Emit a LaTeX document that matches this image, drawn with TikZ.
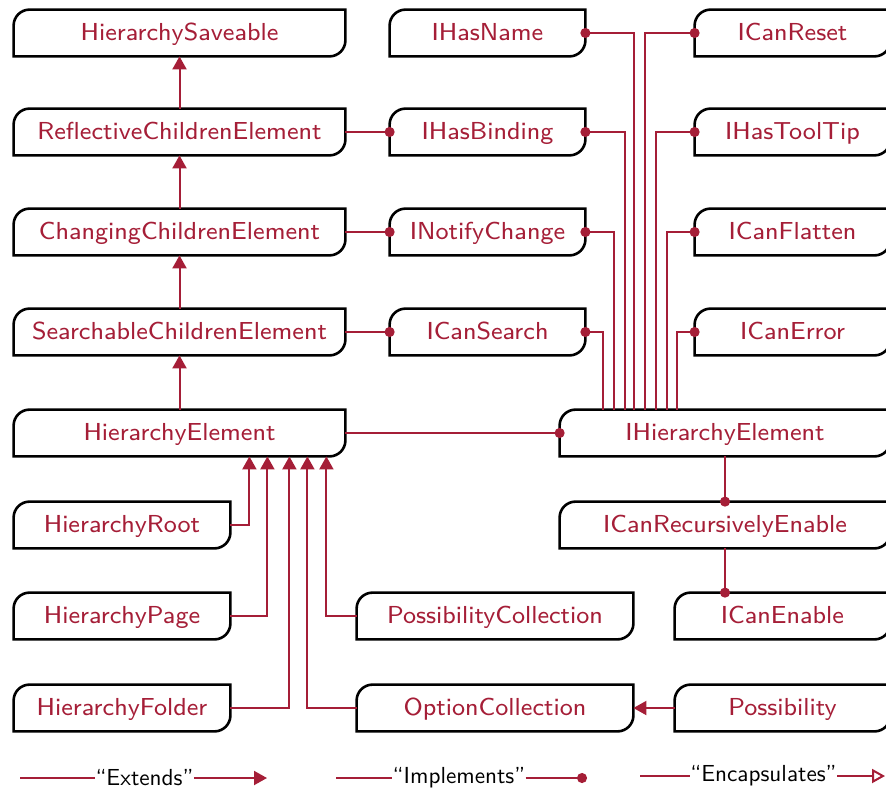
\documentclass[tikz,border=0pt]{standalone}
\usetikzlibrary{arrows.meta}

\definecolor{uniRed}{RGB}{165,30,55}
\font\boxfnt="[lmsans8-regular]:mapping=tex-text" at 12.3pt
\font\legendfnt="[lmsans10-regular]:mapping=tex-text" at 11.6pt

\tikzset{
  classbox/.style={minimum width=#1, minimum height=23pt, inner sep=0pt, text height=8.5pt, text depth=1pt,
    text=uniRed, font=\boxfnt},
  boxline/.style={draw=black, line width=1.3pt},
  link/.style={draw=uniRed, line width=1pt},
  extends/.style={link, -{Triangle[length=6.5pt,width=7pt]}},
  implements/.style={link, -{Circle[length=5pt]}, shorten >=-2.5pt},
  encaps/.style={link, -{Triangle[open,length=6.5pt,width=7pt]}},
  legend/.style={inner sep=0pt, font=\legendfnt},
}

\begin{document}
\begin{tikzpicture}[x=0.5pt,y=-0.5pt]
  \useasboundingbox (0,0) rectangle (886,792);

  % classes, left column
  \node[classbox=165.5pt] (hsave)  at (179.5,33)  {HierarchySaveable};
  \node[classbox=165.5pt] (refl)   at (179.5,132) {ReflectiveChildrenElement};
  \node[classbox=165.5pt] (chang)  at (179.5,232) {ChangingChildrenElement};
  \node[classbox=165.5pt] (search) at (179.5,332) {SearchableChildrenElement};
  \node[classbox=165.5pt] (helem)  at (179.5,433) {HierarchyElement};
  \node[classbox=108pt] (hroot)   at (122,525) {HierarchyRoot};
  \node[classbox=108pt] (hpage)   at (122,616) {HierarchyPage};
  \node[classbox=108pt] (hfolder) at (122,708) {HierarchyFolder};
  \node[classbox=138pt] (posscoll) at (495,616) {PossibilityCollection};
  \node[classbox=138pt] (optcoll)  at (495,708) {OptionCollection};
  \node[classbox=107.5pt] (poss)   at (782.5,708) {Possibility};

  % interfaces
  \node[classbox=97.5pt] (ihasname) at (487.5,33)  {IHasName};
  \node[classbox=97.5pt] (ihasbind) at (487.5,132) {IHasBinding};
  \node[classbox=97.5pt] (inotify)  at (487.5,232) {INotifyChange};
  \node[classbox=97.5pt] (icansrch) at (487.5,332) {ICanSearch};
  \node[classbox=97.5pt] (icanreset) at (792.5,33)  {ICanReset};
  \node[classbox=97.5pt] (ihastip)   at (792.5,132) {IHasToolTip};
  \node[classbox=97.5pt] (icanflat)  at (792.5,232) {ICanFlatten};
  \node[classbox=97.5pt] (icanerr)   at (792.5,332) {ICanError};
  \node[classbox=165pt] (ihier)  at (725,433) {IHierarchyElement};
  \node[classbox=165pt] (irecen) at (725,525) {ICanRecursivelyEnable};
  \node[classbox=107.5pt] (icanen) at (782.5,616) {ICanEnable};

  % box outlines, rounded top left and bottom right
  \foreach \n in {hsave,refl,chang,search,helem,hroot,hpage,hfolder,posscoll,optcoll,poss,
                  ihasname,ihasbind,inotify,icansrch,icanreset,ihastip,icanflat,icanerr,ihier,irecen,icanen}
    \draw[boxline] (\n.south west) -- ([yshift=-8pt]\n.north west)
      arc[start angle=180,end angle=90,radius=8pt] -- (\n.north east)
      -- ([yshift=8pt]\n.south east) arc[start angle=0,end angle=-90,radius=8pt] -- cycle;

  % extends
  \draw[extends] (refl) -- (hsave);
  \draw[extends] (chang) -- (refl);
  \draw[extends] (search) -- (chang);
  \draw[extends] (helem) -- (search);
  \draw[extends] (hroot.east) -| ([xshift=-48pt]helem.south east);
  \draw[extends] (hpage.east) -| ([xshift=-39pt]helem.south east);
  \draw[extends] (hfolder.east) -| ([xshift=-28pt]helem.south east);
  \draw[extends] (optcoll.west) -| ([xshift=-19pt]helem.south east);
  \draw[extends] (posscoll.west) -| ([xshift=-9.5pt]helem.south east);
  \draw[extends] (poss) -- (optcoll);

  % implements
  \draw[implements] (refl) -- (ihasbind);
  \draw[implements] (chang) -- (inotify);
  \draw[implements] (search) -- (icansrch);
  \draw[implements] (helem) -- (ihier);
  \draw[implements] ([xshift=21.5pt]ihier.north west) |- (icansrch.east);
  \draw[implements] ([xshift=27pt]ihier.north west) |- (inotify.east);
  \draw[implements] ([xshift=32.5pt]ihier.north west) |- (ihasbind.east);
  \draw[implements] ([xshift=37pt]ihier.north west) |- (ihasname.east);
  \draw[implements] ([xshift=42.5pt]ihier.north west) |- (icanreset.west);
  \draw[implements] ([xshift=48pt]ihier.north west) |- (ihastip.west);
  \draw[implements] ([xshift=53.5pt]ihier.north west) |- (icanflat.west);
  \draw[implements] ([xshift=58.5pt]ihier.north west) |- (icanerr.west);
  \draw[implements] (ihier) -- (irecen);
  \draw[implements] (irecen.south) -- (irecen.south |- icanen.north);

  % legend
  \coordinate (extA) at (20,778);
  \node[legend] (extL) at (144.5,778) {``Extends''};
  \coordinate (extB) at (267,778);
  \draw[link] (extA) -- (extL);
  \draw[extends] (extL) -- (extB);

  \coordinate (implA) at (336,778);
  \node[legend] (implL) at (459,778) {``Implements''};
  \coordinate (implB) at (582,778);
  \draw[link] (implA) -- (implL);
  \draw[implements] (implL) -- (implB);

  \coordinate (encA) at (640,776);
  \node[legend] (encL) at (763.5,776) {``Encapsulates''};
  \coordinate (encB) at (885,776);
  \draw[link] (encA) -- (encL);
  \draw[encaps] (encL) -- (encB);
\end{tikzpicture}
\end{document}
